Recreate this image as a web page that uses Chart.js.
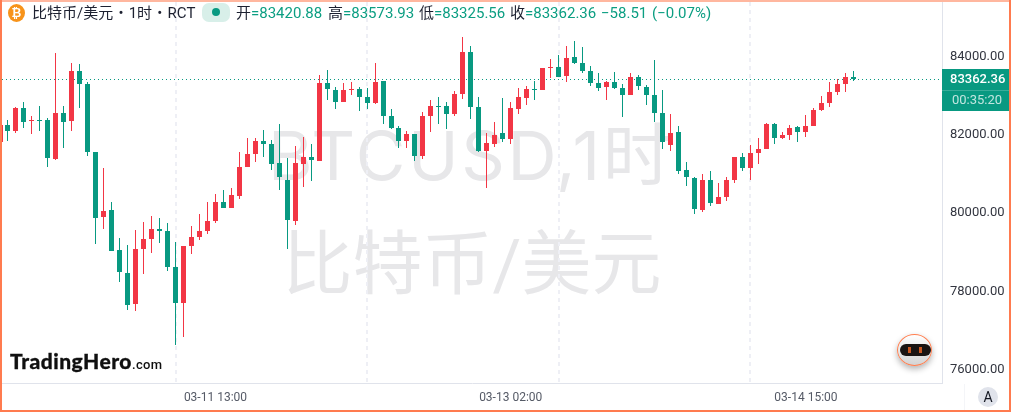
<!DOCTYPE html>
<html>
<head>
<meta charset="utf-8">
<title>BTCUSD</title>
<script src="https://cdn.jsdelivr.net/npm/chart.js@4"></script>
<style>
html, body { margin: 0; padding: 0; background: #fff; }
#wrap { position: relative; width: 1011px; height: 413px; overflow: hidden; background: #fff; font-family: Roboto, "Noto Sans CJK SC", sans-serif; }
#myChart { position: absolute; left: 0; top: 0; z-index: 1; }
.mark { position: absolute; width: 400px; text-align: center; white-space: nowrap; color: #e7e7e9; line-height: 80px; z-index: 0; }
.head { position: absolute; top: 3px; height: 20px; line-height: 20px; font-size: 15px; white-space: nowrap; color: #1c2030; z-index: 2; }
.head b { font-weight: 400; color: #0b9e82; }
#coin { position: absolute; left: 8px; top: 4px; width: 17px; height: 18px; line-height: 18px; border-radius: 50%; background: #f7931a; color: #fff; font-size: 12px; font-weight: 700; text-align: center; z-index: 2; }
#pill { position: absolute; left: 202px; top: 3px; width: 28px; height: 19px; border-radius: 7px; background: #d8efe9; z-index: 2; }
#pill i { position: absolute; left: 10px; top: 5px; width: 8px; height: 8px; border-radius: 50%; background: #089981; }
#logo { position: absolute; left: 10px; top: 346px; font-family: Lato, sans-serif; font-weight: 900; font-size: 21px; letter-spacing: .5px; line-height: 30px; color: #101010; -webkit-text-stroke: .3px #101010; white-space: nowrap; z-index: 2; }
#logo span { font-family: Roboto, sans-serif; font-weight: 500; font-size: 13px; letter-spacing: .3px; -webkit-text-stroke: 0; }
#robot { position: absolute; left: 897px; top: 334px; width: 33px; height: 30px; border: 1px solid #ff7f50; border-radius: 50%; background: linear-gradient(#fff, #d4d4d4); box-shadow: 0 3px 6px rgba(0,0,0,.3); z-index: 2; }
#robot i { position: absolute; left: 2px; top: 9px; width: 31px; height: 12px; border-radius: 6px; background: #1a1412; }
#robot u { position: absolute; top: 12px; width: 3px; height: 6px; background: #c9561f; }
#auto { position: absolute; left: 978px; top: 387px; width: 20px; height: 20px; line-height: 20px; border-radius: 50%; background: #e0e3eb; color: #131722; font-size: 14px; text-align: center; z-index: 2; }
.edge { position: absolute; z-index: 3; background: #ff7b4f; }
</style>
</head>
<body>
<div id="wrap">
	<div class="mark" style="left:268px;top:115px;font-family:Inter,'Noto Sans CJK SC';font-size:68px;letter-spacing:2.6px">BTCUSD,1时</div>
	<div class="mark" style="left:272px;top:225px;font-size:70px">比特币/美元</div>
	<canvas id="myChart" width="1011" height="413"></canvas>

	<div id="coin">₿</div>
	<div class="head" style="left:32px;word-spacing:1.5px">比特币/美元 • 1时 • RCT</div>
	<div id="pill"><i></i></div>
	<div class="head" style="left:236px">开<b>=83420.88</b></div>
	<div class="head" style="left:328px">高<b>=83573.93</b></div>
	<div class="head" style="left:419px">低<b>=83325.56</b></div>
	<div class="head" style="left:510px">收<b>=83362.36</b></div>
	<div class="head" style="left:601px"><b>−58.51</b></div>
	<div class="head" style="left:652px"><b>(−0.07%)</b></div>

	<div id="logo">TradingHero<span>.com</span></div>
	<div id="robot"><i></i><u style="left:10px"></u><u style="left:21px"></u></div>
	<div id="auto">A</div>

	<div class="edge" style="left:0;top:0;width:1011px;height:2px;background:#ffb79f"></div>
	<div class="edge" style="left:0;top:0;width:2px;height:412px"></div>
	<div class="edge" style="right:0;top:0;width:2px;height:412px"></div>
	<div class="edge" style="left:0;top:410px;width:1011px;height:2px"></div>
</div>

<script>
// candles, one per hour, oldest first
var opens = [81755,82198,82045,82632,82300,82325,82325,81330,82504,82300,83576,83244,81508,79849,80028,79006,78419,77628,79032,79287,
	79543,79492,78572,77653,79109,79338,79492,79747,80232,80079,80385,81125,81457,81789,81713,81228,80794,79747,81202,81381,
	81279,83270,83091,82785,83091,83117,82913,82759,83321,82428,82121,81789,81968,81406,82428,82683,82683,82479,82989,84061,
	82657,81534,81713,81994,81840,82606,82887,83117,83091,83653,83678,83449,83934,83781,83576,83270,83168,83296,83142,82964,
	83423,83168,82964,82504,81687,82019,81049,80845,80028,80794,80181,80360,80794,81381,81100,81483,81585,82223,81866,81942,
	82147,82019,82172,82581,82759,83040,83244,83420.88];
var highs = [82325,82325,82666,82785,82428,82683,82376,84036,82683,83781,83755,83296,81508,81100,80232,79313,79134,79517,79721,79875,
	79823,79696,79211,79109,79619,79926,80232,80436,80538,80589,81508,81866,81866,82070,81815,82223,81355,81662,81891,81713,
	83474,83602,83168,83270,83296,83168,83142,83781,83321,82606,82172,82045,81968,82530,82836,82913,82785,83066,84444,84215,
	82913,81994,82274,82887,82785,83142,83193,83321,83653,83883,83985,84215,84342,84189,83704,83525,83321,83551,83244,83525,
	83474,83219,83857,83091,82479,82172,81253,80870,80947,81023,80717,80870,81381,81483,81687,81866,82249,82249,82019,82198,
	82172,82453,82632,82938,83296,83372,83525,83573.93];
var lows = [81730,81789,82002,82121,81968,82045,81125,81304,81611,82045,82632,81406,79160,79543,78981,78190,77475,77449,78394,78930,
	79185,78470,76581,76785,78904,79262,79415,79696,80079,80079,80309,81125,81253,81381,81049,80538,79032,79645,80615,80768,
	81279,82836,82606,82785,82964,82555,82606,82734,82223,82096,81611,81611,81279,81330,82019,82223,82096,82428,82862,82351,
	81508,80589,81636,81764,81713,82479,82708,82836,83091,83398,83423,83296,83755,83525,83193,83066,82836,83117,82402,82964,
	83091,82708,82274,81585,81534,80947,80640,79926,79977,80130,80181,80257,80717,81023,80794,81202,81585,81713,81840,81815,
	81764,81891,82172,82555,82657,82964,83040,83325.56];
var closes = [82198,82045,82640,82274,82325,82300,81355,82504,82274,83576,83244,81508,79823,80002,78981,78445,77602,79032,79287,79543,
	79492,78572,77653,79109,79338,79492,79747,80232,80079,80411,81125,81457,81789,81713,81202,80870,79772,81228,81381,81304,
	83270,83117,82785,83091,83117,82913,82759,83296,82428,82121,81789,81968,81406,82428,82683,82657,82479,82989,84061,82657,
	81534,81738,81942,81840,82632,82913,83117,83091,83653,83678,83423,83908,83781,83576,83270,83142,83296,83142,82964,83423,
	83193,82964,82504,81764,81994,81023,80870,80053,80794,80206,80360,80794,81381,81100,81483,81585,82223,81866,81942,82121,
	82019,82172,82581,82759,83040,83244,83420.88,83362.36];

var tickIndex = [27, 64, 101];
var tickLabels = ['03-11 13:00', '03-13 02:00', '03-14 15:00'];
var gridIndex = [22, 46, 70, 94];
var priceTicks = [76000, 78000, 80000, 82000, 84000];
var lastPrice = 83362.36;
var lastLabel = '83362.36';
var countdown = '00:35:20';

var UP = '#f23645';
var DOWN = '#089981';

function candleColor(ctx) {
	return closes[ctx.dataIndex] >= opens[ctx.dataIndex] ? UP : DOWN;
}

var wicks = [];
var bodies = [];
for (var i = 0; i < opens.length; i++) {
	wicks.push({ x: i, y: [lows[i], highs[i]] });
	bodies.push({ x: i, y: [opens[i], closes[i]] });
}

// bars land on whole pixels, like the original
var snapBars = {
	id: 'snapBars',
	afterDatasetsUpdate: function (chart) {
		chart.data.datasets.forEach(function (ds, n) {
			chart.getDatasetMeta(n).data.forEach(function (el) {
				el.x = Math.floor(el.x) + 0.5;
				el.y = Math.round(el.y);
				el.base = Math.round(el.base);
				if (el.y === el.base) el.base = el.y + 1;
			});
		});
	}
};

// dotted last price line, under the candles
var priceLine = {
	id: 'priceLine',
	beforeDatasetsDraw: function (chart) {
		var c = chart.ctx, a = chart.chartArea;
		var y = Math.round(chart.scales.y.getPixelForValue(lastPrice)) + 0.5;
		c.save();
		c.strokeStyle = DOWN;
		c.lineWidth = 1;
		c.setLineDash([1, 3]);
		c.beginPath();
		c.moveTo(a.left, y);
		c.lineTo(a.right, y);
		c.stroke();
		c.restore();
	},
	afterDraw: function (chart) {
		var c = chart.ctx, a = chart.chartArea;
		var y = Math.round(chart.scales.y.getPixelForValue(lastPrice));
		c.save();
		c.fillStyle = DOWN;
		c.fillRect(a.right, y - 10, 69, 42);
		c.fillStyle = 'rgba(255,255,255,.2)';
		c.fillRect(a.right, y + 11, 69, 1);
		c.textAlign = 'left';
		c.textBaseline = 'middle';
		c.font = '500 13px Roboto';
		c.fillStyle = '#fff';
		c.fillText(lastLabel, a.right + 8, y + 1);
		c.font = '13px Roboto';
		c.fillStyle = 'rgba(255,255,255,.75)';
		c.fillText(countdown, a.right + 10, y + 22);
		c.fillStyle = '#f4f5f8';
		c.fillRect(964, a.bottom + 1, 1, 27);
		c.restore();
	}
};

var ctx = document.getElementById('myChart').getContext('2d');
var myChart = new Chart(ctx, {
	type: 'bar',
	data: {
		datasets: [{
			label: 'wick',
			data: wicks,
			backgroundColor: candleColor,
			barThickness: 1,
			inflateAmount: 0,
			grouped: false
		}, {
			label: 'body',
			data: bodies,
			backgroundColor: candleColor,
			barThickness: 5,
			inflateAmount: 0,
			grouped: false
		}]
	},
	plugins: [snapBars, priceLine],
	options: {
		responsive: false,
		animation: false,
		layout: { padding: { left: 2, top: 2, right: 0, bottom: 0 } },
		plugins: { legend: { display: false }, tooltip: { enabled: false } },
		scales: {
			x: {
				type: 'linear',
				offset: false,
				min: 0.25,
				max: 118.05,
				afterBuildTicks: function (s) { s.ticks = tickIndex.map(function (v) { return { value: v }; }); },
				afterFit: function (s) { s.height = 30; },
				grid: { display: false, drawTicks: false, offset: false },
				border: { color: '#e0e3eb' },
				ticks: {
					autoSkip: false,
					maxRotation: 0,
					padding: 8,
					color: '#555a66',
					font: { family: 'Roboto', size: 12 },
					callback: function (v) { return tickLabels[tickIndex.indexOf(v)]; }
				}
			},
			xGrid: {
				type: 'linear',
				position: 'top',
				offset: false,
				min: 0.25,
				max: 118.05,
				afterBuildTicks: function (s) { s.ticks = gridIndex.map(function (v) { return { value: v }; }); },
				afterFit: function (s) { s.height = 0; },
				grid: { color: '#eeeff5', lineWidth: 2, drawTicks: false, offset: false },
				border: { display: false, dash: [4, 4] },
				ticks: { display: false }
			},
			y: {
				position: 'right',
				min: 75611,
				max: 85338,
				afterBuildTicks: function (s) { s.ticks = priceTicks.map(function (v) { return { value: v }; }); },
				afterFit: function (s) { s.width = 69; s.paddingTop = 0; s.paddingBottom = 0; },
				grid: { display: false, drawTicks: false },
				border: { color: '#e0e3eb' },
				ticks: {
					padding: 8,
					labelOffset: 2,
					color: '#333640',
					font: { family: 'Roboto', size: 13 },
					callback: function (v) { return v.toFixed(2); }
				}
			}
		}
	}
});
</script>
</body>
</html>
